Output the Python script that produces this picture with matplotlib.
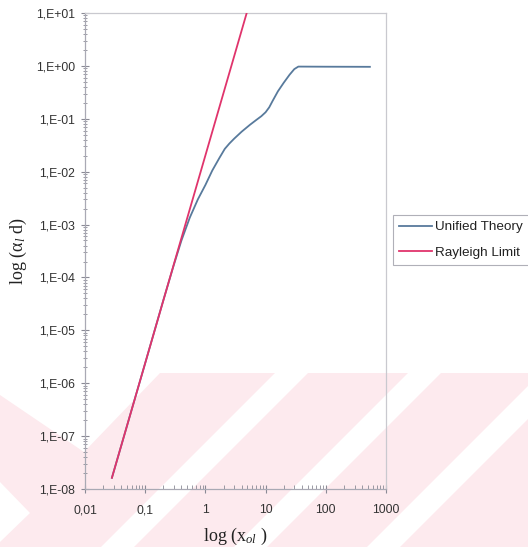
import matplotlib
matplotlib.use("Agg")
import matplotlib.pyplot as plt
from matplotlib.patches import Polygon
from matplotlib.ticker import LogLocator, FixedLocator, NullFormatter

# ---- data ----
unified_x = [0.028, 0.1, 0.2, 0.3, 0.4, 0.55, 0.75, 1.0, 1.3, 1.7, 2.1, 2.5, 3.0, 4.0,
             5.5, 7.0, 8.5, 10.0, 11.5, 13, 16, 20, 25, 30, 35, 100, 300, 540]
unified_y = [1.63e-8, 2.4e-6, 3.7e-5, 1.75e-4, 5.0e-4, 1.35e-3, 3.0e-3, 5.6e-3,
             0.0105, 0.018, 0.027, 0.034, 0.042, 0.057, 0.077, 0.095, 0.112, 0.133,
             0.165, 0.215, 0.33, 0.48, 0.68, 0.87, 0.97, 0.965, 0.962, 0.96]
rayleigh_x = [0.028, 0.1, 0.3, 1.0, 3.0, 5.2]
rayleigh_y = [1.63e-8, 2.4e-6, 1.8e-4, 0.0203, 1.51, 13.1]

x_ticks = [0.01, 0.1, 1, 10, 100, 1000]
x_labels = ["0,01", "0,1", "1", "10", "100", "1000"]
y_ticks = [1e-8, 1e-7, 1e-6, 1e-5, 1e-4, 1e-3, 1e-2, 1e-1, 1e0, 1e1]
y_labels = ["1,E-08", "1,E-07", "1,E-06", "1,E-05", "1,E-04", "1,E-03",
            "1,E-02", "1,E-01", "1,E+00", "1,E+01"]
series_names = ["Unified Theory", "Rayleigh Limit"]

# ---- style ----
plt.rcParams['font.family'] = ['Liberation Sans', 'DejaVu Sans']
plt.rcParams['mathtext.fontset'] = 'custom'
plt.rcParams['mathtext.rm'] = 'Liberation Serif'
plt.rcParams['mathtext.it'] = 'Liberation Serif:italic'

W, H = 528, 547
fig = plt.figure(figsize=(W / 100, H / 100), dpi=100)
fig.patch.set_facecolor('white')

def P(x, y):
    return (x / W, 1 - y / H)

pink = '#fdeaee'
# watermark background
fig.add_artist(Polygon([P(0, 373), P(W, 373), P(W, H), P(0, H)], closed=True,
                       facecolor=pink, edgecolor='none', transform=fig.transFigure, zorder=-3))
# white shapes of the watermark
whites = [
    [P(0, 360), P(160, 360), P(160, 373), P(84, 452), P(0, 395)],
    [P(0, 482), P(30, 513), P(0, 542)],
]
for x0 in [275, 408, 541]:
    whites.append([P(x0, 373), P(x0 + 33, 373), P(x0 + 33 - 180, 553), P(x0 - 180, 553)])
for poly in whites:
    fig.add_artist(Polygon(poly, closed=True, facecolor='white', edgecolor='none',
                           transform=fig.transFigure, zorder=-2))

ax = fig.add_axes([85 / W, 1 - 489 / H, (386 - 85) / W, (489 - 13) / H])
ax.set_facecolor('none')
ax.set_xscale('log')
ax.set_yscale('log')
ax.set_xlim(0.01, 1000)
ax.set_ylim(1e-8, 10)

ax.plot(unified_x, unified_y, color='#587a9c', lw=1.3, label=series_names[0], zorder=3)
ax.plot(rayleigh_x, rayleigh_y, color='#e0346c', lw=1.3, label=series_names[1], zorder=4)

ax.xaxis.set_major_locator(FixedLocator(x_ticks))
ax.set_xticklabels(x_labels)
ax.yaxis.set_major_locator(FixedLocator(y_ticks))
ax.set_yticklabels(y_labels)
ax.xaxis.set_minor_locator(LogLocator(base=10, subs=range(2, 10), numticks=20))
ax.yaxis.set_minor_locator(LogLocator(base=10, subs=range(2, 10), numticks=20))
ax.xaxis.set_minor_formatter(NullFormatter())
ax.yaxis.set_minor_formatter(NullFormatter())

tick_col = '#8a8a95'
ax.tick_params(axis='both', which='major', direction='inout', length=6, width=0.8,
               color=tick_col, labelsize=8.8, labelcolor='#333333', pad=4)
ax.tick_params(axis='y', which='minor', direction='inout', length=3, width=0.6,
               color=tick_col)
ax.tick_params(axis='x', which='minor', direction='in', length=3, width=0.6,
               color=tick_col)
ax.tick_params(axis='x', which='major', pad=8)

for s in ['left', 'bottom']:
    ax.spines[s].set_color('#a9a9b4')
    ax.spines[s].set_linewidth(0.9)
for s in ['top', 'right']:
    ax.spines[s].set_color('#c9c9cf')
    ax.spines[s].set_linewidth(0.9)

ax.set_xlabel('log (x$_{o\\mathit{l}}$ )', family='Liberation Serif', fontsize=13,
              color='#222222', labelpad=7)
ax.set_ylabel('log (\u03b1$_{\\mathit{l}}$ d)', family='Liberation Serif', fontsize=13,
              color='#222222', labelpad=5.5)

leg = ax.legend(loc='upper left', bbox_to_anchor=P(393, 215), bbox_transform=fig.transFigure,
                fontsize=9.7, handlelength=2.45, handletextpad=0.25, borderpad=0.45,
                labelspacing=0.95, borderaxespad=0, fancybox=False, framealpha=1,
                edgecolor='#b0b0b8')
leg.get_frame().set_linewidth(0.8)
for t in leg.get_texts():
    t.set_color('#222222')

fig.savefig('out.png', dpi=100)
